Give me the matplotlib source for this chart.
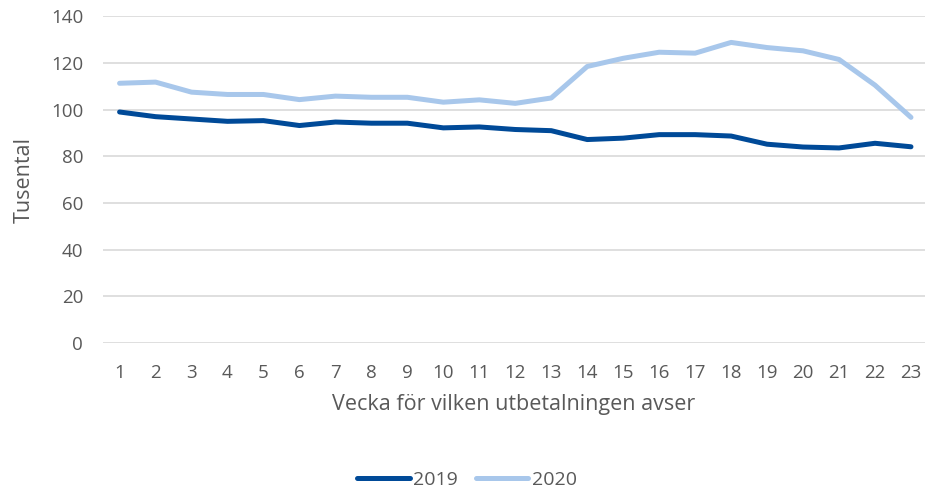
import matplotlib
matplotlib.use("Agg")
import matplotlib.pyplot as plt

weeks = list(range(1, 24))
week_labels = [str(w) for w in weeks]
v2019 = [99, 97, 96, 95, 95.3, 93.2, 94.7, 94.2, 94.2, 92.2, 92.6, 91.5, 91, 87.2, 87.8, 89.3, 89.3, 88.7, 85.2, 84, 83.6, 85.6, 84.1]
v2020 = [111.3, 111.8, 107.5, 106.5, 106.5, 104.3, 105.8, 105.3, 105.3, 103.2, 104.2, 102.7, 105, 118.5, 122, 124.6, 124.2, 128.8, 126.6, 125.2, 121.5, 110.5, 96.7]
yticks = [0, 20, 40, 60, 80, 100, 120, 140]

plt.rcParams['font.family'] = ['Open Sans', 'DejaVu Sans']
fig = plt.figure(figsize=(9.25, 4.93), dpi=100)
ax = fig.add_axes([0.111, 0.304, 0.889, 0.663])

grey = '#595959'
ax.plot(weeks, v2019, color='#004A98', lw=3.6, label='2019', solid_capstyle='round', solid_joinstyle='round')
ax.plot(weeks, v2020, color='#A8C7EB', lw=3.6, label='2020', solid_capstyle='round', solid_joinstyle='round')

ax.set_xlim(0.53, 23.39)
ax.set_ylim(0, 140)
ax.set_yticks(yticks)
ax.set_xticks(weeks)
ax.set_xticklabels(week_labels)
ax.grid(axis='y', color='#D9D9D9', lw=1.2)
ax.set_axisbelow(True)
for s in ax.spines.values():
    s.set_visible(False)
ax.tick_params(length=0, colors=grey, labelsize=13.5)
ax.tick_params(axis='x', pad=15)
ax.tick_params(axis='y', pad=14)
ax.set_xlabel('Vecka för vilken utbetalningen avser', color=grey, fontsize=15.5, labelpad=9)
ax.set_ylabel('Tusental', color=grey, fontsize=15.5, labelpad=12)

fig.legend(loc='center', bbox_to_anchor=(0.505, 0.027), ncol=2, frameon=False,
           fontsize=14, labelcolor=grey, handlelength=2.7, handletextpad=0.2, columnspacing=0.9)

fig.savefig('out.png', dpi=100)
